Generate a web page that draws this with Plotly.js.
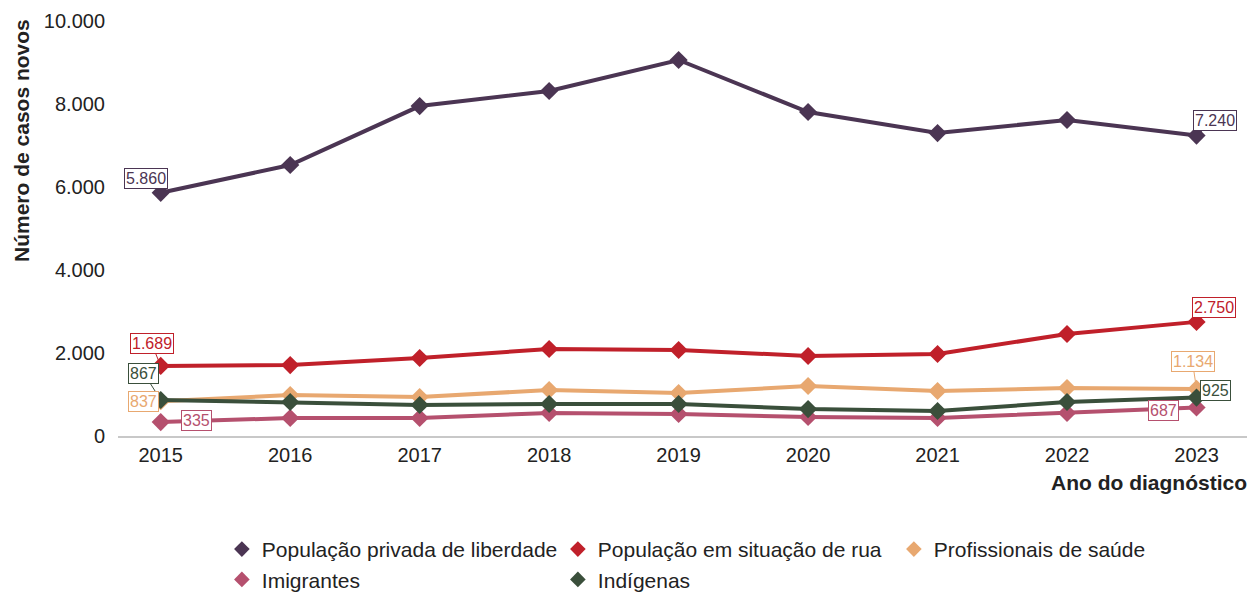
<!DOCTYPE html>
<html><head><meta charset="utf-8">
<script src="https://cdn.plot.ly/plotly-3.0.1.min.js"></script>
<style>body{margin:0;background:#fff}#c{width:1260px;height:597px}</style>
</head><body><div id="c"></div>
<script>
const anos = [2015, 2016, 2017, 2018, 2019, 2020, 2021, 2022, 2023];
const privada = [5860, 6530, 7950, 8313, 9060, 7807, 7300, 7615, 7240];
const rua = [1689, 1710, 1880, 2096, 2072, 1928, 1976, 2458, 2750];
const profissionais = [837, 988, 940, 1108, 1036, 1205, 1084, 1157, 1134];
const imigrantes = [335, 434, 434, 554, 530, 458, 434, 554, 687];
const indigenas = [867, 819, 747, 771, 771, 650, 602, 819, 925];
const nomes = ["População privada de liberdade", "População em situação de rua", "Profissionais de saúde", "Imigrantes", "Indígenas"];
const cores = ["#4B3553", "#C0202A", "#E8A870", "#B5506E", "#3A4F3B"];
const series = [privada, rua, profissionais, imigrantes, indigenas];

const FONT = "Liberation Sans, Arial, sans-serif";
const traces = [];
const drawOrder = [0, 1, 2, 3, 4];
drawOrder.forEach(i => {
  traces.push({x: anos, y: series[i], type: 'scatter', mode: 'lines+markers',
    line: {color: cores[i], width: 4}, marker: {symbol: 'diamond', size: 14, color: cores[i]},
    showlegend: false, hoverinfo: 'skip'});
});
[0, 1, 2, 3, 4].forEach(i => {
  traces.push({x: [null], y: [null], type: 'scatter', mode: 'markers', name: nomes[i],
    marker: {symbol: 'diamond', size: 12, color: cores[i]}, showlegend: true});
});

const fmt = v => v.toLocaleString('de-DE');
function lab(serie, idx, ax, ay) {
  const c = cores[serie];
  const v = series[serie][idx];
  return {x: anos[idx], y: v, text: fmt(v), showarrow: true, arrowhead: 0, arrowwidth: 1,
    arrowcolor: c, ax: ax, ay: ay, font: {family: FONT, size: 16, color: c},
    bgcolor: '#ffffff', bordercolor: c, borderwidth: 1, borderpad: 1, standoff: 4};
}
const last = anos.length - 1;
const annotations = [
  lab(0, 0, -15, -14),
  lab(0, last, 18, -15),
  lab(1, 0, -9, -22),
  lab(4, 0, -17, -27),
  lab(2, 0, -17, 0),
  lab(3, 0, 36, -2),
  lab(1, last, 17, -14),
  lab(2, last, -4, -27),
  lab(4, last, 19, -7),
  lab(3, last, -33, 3),
  {xref: 'paper', yref: 'paper', x: -0.085, y: 0.711, textangle: -90, text: '<b>Número de casos novos</b>',
   showarrow: false, xanchor: 'center', yanchor: 'middle', font: {family: FONT, size: 21, color: '#222'}},
  {xref: 'paper', yref: 'paper', x: 1.002, y: -0.113, text: '<b>Ano do diagnóstico</b>',
   showarrow: false, xanchor: 'right', yanchor: 'middle', font: {family: FONT, size: 21, color: '#222'}}
];

const layout = {
  width: 1260, height: 597,
  margin: {l: 118, r: 13, t: 21, b: 161, autoexpand: false},
  paper_bgcolor: '#fff', plot_bgcolor: '#fff',
  separators: ',.',
  font: {family: FONT, size: 20, color: '#222'},
  xaxis: {range: [2014.67, 2023.39], tickvals: anos, ticktext: anos.map(String), showgrid: false,
    zeroline: false, showline: true, linecolor: '#C8C8C8', linewidth: 2, ticks: '', ticklen: 0,
    automargin: false, tickfont: {family: FONT, size: 20, color: '#222'}},
  yaxis: {range: [0, 10000], tickvals: [0, 2000, 4000, 6000, 8000, 10000], tickformat: ',d',
    showgrid: false, zeroline: false, showline: false, ticks: '', automargin: false, ticklabelstandoff: 12,
    tickfont: {family: FONT, size: 20, color: '#222'}},
  showlegend: true,
  legend: {orientation: 'h', x: 0.092, xanchor: 'left', y: -0.224, yanchor: 'top', entrywidth: 291, entrywidthmode: 'pixels',
    font: {family: FONT, size: 21, color: '#222'}, tracegroupgap: 0, itemclick: false},
  annotations: annotations
};
Plotly.newPlot('c', traces, layout, {displayModeBar: false, staticPlot: true});
</script></body></html>
